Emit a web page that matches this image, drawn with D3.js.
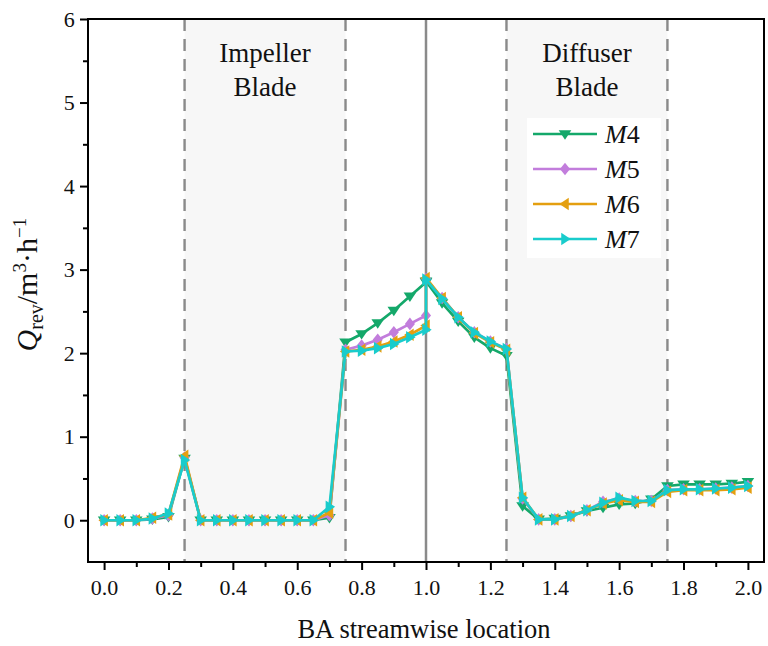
<!DOCTYPE html>
<html>
<head>
<meta charset="utf-8">
<script src="https://cdn.jsdelivr.net/npm/d3@7"></script>
<style>
  body { margin: 0; background: #fff; }
  svg text { font-family: "Liberation Serif", "Times New Roman", serif; fill: #111; }
</style>
</head>
<body>
<div id="mount"></div>
<script>
// streamwise positions (1.0 appears twice: impeller side and diffuser side)
var locs = [0, 0.05, 0.1, 0.15, 0.2, 0.25, 0.3, 0.35, 0.4, 0.45, 0.5, 0.55, 0.6, 0.65, 0.7,
  0.75, 0.8, 0.85, 0.9, 0.95, 1.0, 1.0, 1.05, 1.1, 1.15, 1.2, 1.25, 1.3, 1.35, 1.4, 1.45,
  1.5, 1.55, 1.6, 1.65, 1.7, 1.75, 1.8, 1.85, 1.9, 1.95, 2.0];

var m4 = [0, 0, 0, 0.01, 0.04, 0.74, 0, 0, 0, 0, 0, 0, 0, 0, 0.03,
  2.13, 2.23, 2.36, 2.51, 2.68, 2.85, 2.86, 2.6, 2.38, 2.19, 2.06, 1.97, 0.17, 0.01, 0.02, 0.05,
  0.11, 0.15, 0.19, 0.2, 0.25, 0.41, 0.43, 0.43, 0.43, 0.44, 0.46];
var m5 = [0, 0, 0, 0.02, 0.06, 0.75, 0, 0, 0, 0, 0, 0, 0, 0, 0.06,
  2.04, 2.09, 2.16, 2.25, 2.35, 2.45, 2.89, 2.66, 2.43, 2.25, 2.14, 2.05, 0.26, 0.01, 0.01, 0.05,
  0.12, 0.22, 0.26, 0.23, 0.23, 0.36, 0.37, 0.37, 0.38, 0.39, 0.41];
var m6 = [0, 0, 0, 0.03, 0.07, 0.77, 0, 0, 0, 0, 0, 0, 0, 0, 0.09,
  2.02, 2.04, 2.08, 2.14, 2.22, 2.33, 2.9, 2.66, 2.43, 2.24, 2.13, 2.04, 0.27, 0.01, 0.01, 0.05,
  0.12, 0.2, 0.24, 0.22, 0.22, 0.34, 0.36, 0.36, 0.36, 0.37, 0.39];
var m7 = [0, 0, 0, 0.02, 0.08, 0.72, 0, 0, 0, 0, 0, 0, 0, 0, 0.16,
  2.02, 2.03, 2.06, 2.11, 2.19, 2.28, 2.88, 2.65, 2.43, 2.25, 2.14, 2.05, 0.27, 0.01, 0.01, 0.05,
  0.12, 0.21, 0.27, 0.23, 0.23, 0.36, 0.37, 0.37, 0.38, 0.39, 0.41];

var seriesNames = ['M4', 'M5', 'M6', 'M7'];
var seriesValues = [m4, m5, m6, m7];
var seriesColors = ['#14a86a', '#c27ddc', '#e49f10', '#19cccc'];
var seriesSymbols = ['down', 'diamond', 'left', 'right'];

var bladeZones = [[0.25, 0.75], [1.25, 1.75]];
var bladeLabels = [['Impeller', 'Blade'], ['Diffuser', 'Blade']];
var dashedAt = [0.25, 0.75, 1.25, 1.75];
var solidAt = [1.0];

var xTicks = [0, 0.2, 0.4, 0.6, 0.8, 1.0, 1.2, 1.4, 1.6, 1.8, 2.0];
var yTicks = [0, 1, 2, 3, 4, 5, 6];

var W = 768, H = 646;
var margin = { top: 19, right: 4, bottom: 84, left: 88 };
var width = W - margin.left - margin.right,
    height = H - margin.top - margin.bottom;

var svg = d3.select('#mount').append('svg')
    .attr('width', W)
    .attr('height', H);
var g = svg.append('g')
    .attr('transform', `translate(${margin.left},${margin.top})`);

var x = d3.scaleLinear().domain([-0.05, 2.05]).range([0, width]);
var y = d3.scaleLinear().domain([-0.5, 6]).range([height, 0]);

// shaded blade zones
g.selectAll('.zone')
    .data(bladeZones)
  .enter().append('rect')
    .attr('x', d => x(d[0]))
    .attr('width', d => x(d[1]) - x(d[0]))
    .attr('y', 0)
    .attr('height', height)
    .style('fill', '#f7f7f7');

g.selectAll('.dash')
    .data(dashedAt)
  .enter().append('line')
    .attr('x1', d => x(d)).attr('x2', d => x(d))
    .attr('y1', 0).attr('y2', height)
    .style('stroke', '#8a8a8a')
    .style('stroke-width', 2.4)
    .style('stroke-dasharray', '12,8');

g.selectAll('.solid')
    .data(solidAt)
  .enter().append('line')
    .attr('x1', d => x(d)).attr('x2', d => x(d))
    .attr('y1', 0).attr('y2', height)
    .style('stroke', '#8a8a8a')
    .style('stroke-width', 2.5);

bladeLabels.forEach((lines, i) => {
  var cx = x((bladeZones[i][0] + bladeZones[i][1]) / 2);
  lines.forEach((t, j) => {
    g.append('text')
        .attr('x', cx)
        .attr('y', 43 + j * 34)
        .attr('text-anchor', 'middle')
        .style('font-size', '27px')
        .text(t);
  });
});

// axes
var xAxis = d3.axisBottom(x).tickValues(xTicks).tickFormat(d3.format('.1f')).tickSize(8);
var xMinor = d3.axisBottom(x).tickValues([0.1, 0.3, 0.5, 0.7, 0.9, 1.1, 1.3, 1.5, 1.7, 1.9]).tickFormat('').tickSize(5);
var yAxis = d3.axisLeft(y).tickValues(yTicks).tickFormat(d3.format('d')).tickSize(8);
var yMinor = d3.axisLeft(y).tickValues([0.5, 1.5, 2.5, 3.5, 4.5, 5.5]).tickFormat('').tickSize(5);

function styleAxis(sel) {
  sel.attr('font-family', null);
  sel.select('.domain').remove();
  sel.selectAll('line').style('stroke', '#000').style('stroke-width', 2);
  sel.selectAll('text').style('font-size', '22px').style('fill', '#111');
}

g.append('g').attr('transform', `translate(0,${height})`).call(xAxis).call(styleAxis)
  .selectAll('text').attr('dy', '1.02em');
g.append('g').attr('transform', `translate(0,${height})`).call(xMinor).call(styleAxis);
g.append('g').call(yAxis).call(styleAxis).selectAll('text').attr('dx', '-0.1em');
g.append('g').call(yMinor).call(styleAxis);

// frame
g.append('rect')
    .attr('x', 0).attr('y', 0)
    .attr('width', width).attr('height', height)
    .style('fill', 'none')
    .style('stroke', '#000')
    .style('stroke-width', 2);

// symbols
function symbolPath(kind, s) {
  if (kind === 'down') return `M${-s},${-s * 0.6}L${s},${-s * 0.6}L0,${s * 0.9}Z`;
  if (kind === 'left') return `M${-s * 0.9},0L${s * 0.6},${-s}L${s * 0.6},${s}Z`;
  if (kind === 'right') return `M${s * 0.9},0L${-s * 0.6},${-s}L${-s * 0.6},${s}Z`;
  return `M0,${-s}L${s * 0.8},0L0,${s}L${-s * 0.8},0Z`;
}

var line = d3.line()
    .x(d => x(d[0]))
    .y(d => y(d[1]));

seriesValues.forEach((vals, i) => {
  var pts = locs.map((l, k) => [l, vals[k]]);
  var sg = g.append('g');
  sg.append('path')
      .datum(pts)
      .attr('d', line)
      .style('fill', 'none')
      .style('stroke', seriesColors[i])
      .style('stroke-width', 2.7)
      .style('stroke-linejoin', 'round');
  sg.selectAll('.pt')
      .data(pts)
    .enter().append('path')
      .attr('transform', d => `translate(${x(d[0])},${y(d[1])})`)
      .attr('d', symbolPath(seriesSymbols[i], 6.3))
      .style('fill', seriesColors[i]);
});

// legend
var lg = g.append('g').attr('transform', `translate(${533 - margin.left},${134 - margin.top})`);
lg.append('rect')
    .attr('x', -6).attr('y', -16)
    .attr('width', 134).attr('height', 140)
    .style('fill', '#fff');
seriesNames.forEach((n, i) => {
  var ly = i * 35;
  lg.append('line')
      .attr('x1', 0).attr('x2', 64)
      .attr('y1', ly).attr('y2', ly)
      .style('stroke', seriesColors[i])
      .style('stroke-width', 2.7);
  lg.append('path')
      .attr('transform', `translate(32,${ly})`)
      .attr('d', symbolPath(seriesSymbols[i], 6.3))
      .style('fill', seriesColors[i]);
  var t = lg.append('text')
      .attr('x', 72)
      .attr('y', ly + 9)
      .style('font-size', '26px');
  t.append('tspan').style('font-style', 'italic').text(n.charAt(0));
  t.append('tspan').text(n.slice(1));
});

// axis titles
svg.append('text')
    .attr('x', margin.left + x(1.0) - 2)
    .attr('y', 638)
    .attr('text-anchor', 'middle')
    .style('font-size', '26.5px')
    .text('BA streamwise location');

var yl = svg.append('text')
    .attr('transform', `translate(37,${margin.top + y(2.82)}) rotate(-90)`)
    .attr('text-anchor', 'middle')
    .style('font-size', '30px');
yl.append('tspan').style('font-style', 'italic').text('Q');
yl.append('tspan').attr('dy', 6).style('font-size', '20px').text('rev');
yl.append('tspan').attr('dy', -6).text('/m');
yl.append('tspan').attr('dy', -11).style('font-size', '19px').text('3');
yl.append('tspan').attr('dy', 11).text('·h');
yl.append('tspan').attr('dy', -11).style('font-size', '19px').text('−1');
</script>
</body>
</html>
